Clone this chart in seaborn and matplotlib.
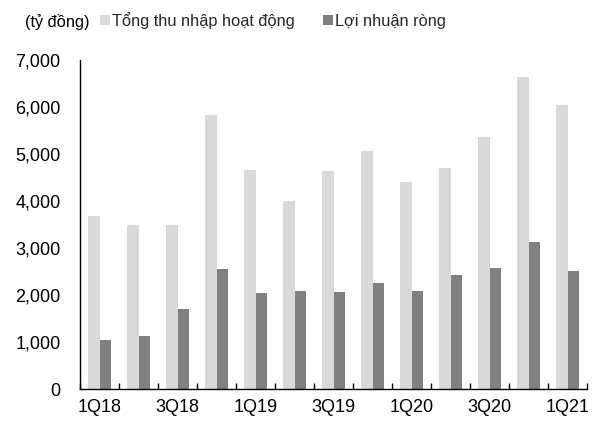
import numpy as np
import pandas as pd
import seaborn as sns
import matplotlib.pyplot as plt
from matplotlib.ticker import FuncFormatter

# Quarterly figures, in billion VND
quarters = ["1Q18", "2Q18", "3Q18", "4Q18", "1Q19", "2Q19", "3Q19",
            "4Q19", "1Q20", "2Q20", "3Q20", "4Q20", "1Q21"]
tong_thu_nhap = [3680, 3490, 3490, 5830, 4660, 4000, 4640,
                 5060, 4400, 4700, 5370, 6630, 6040]
loi_nhuan_rong = [1050, 1130, 1710, 2550, 2050, 2100, 2070,
                  2270, 2090, 2430, 2580, 3130, 2510]
series_names = ["Tổng thu nhập hoạt động", "Lợi nhuận ròng"]
series_colors = ["#D9D9D9", "#808080"]
y_ticks = [0, 1000, 2000, 3000, 4000, 5000, 6000, 7000]
unit_label = "(tỷ đồng)"

df = pd.DataFrame({
    "Quý": quarters * 2,
    "Giá trị": tong_thu_nhap + loi_nhuan_rong,
    "Chỉ tiêu": [series_names[0]] * len(quarters) + [series_names[1]] * len(quarters),
})

sns.set_theme(style="white")
plt.rcParams["font.family"] = ["Liberation Sans", "DejaVu Sans"]
FS = 13
FS_TOP = 11.8

fig = plt.figure(figsize=(5.97, 4.23), dpi=100)
ax = fig.add_axes([80 / 597, 1 - 389.3 / 423, (587 - 80) / 597, (389.3 - 60) / 423])

sns.barplot(data=df, x="Quý", y="Giá trị", hue="Chỉ tiêu", order=quarters,
            hue_order=series_names, palette=series_colors, saturation=1,
            width=0.57, gap=0, linewidth=0, edgecolor="none", ax=ax)

ax.set_xlim(-0.5, len(quarters) - 0.5)
ax.set_ylim(y_ticks[0], y_ticks[-1])
ax.set_xlabel("")
ax.set_ylabel("")

for side in ("top", "right"):
    ax.spines[side].set_visible(False)
for side in ("left", "bottom"):
    ax.spines[side].set_color("black")
    ax.spines[side].set_linewidth(1.0)

# y axis: comma-separated thousands, a single short tick at the top
ax.set_yticks(y_ticks)
ax.yaxis.set_major_formatter(FuncFormatter(lambda v, _: f"{int(v):,}"))
ax.set_yticks([y_ticks[-1]], minor=True)
ax.tick_params(axis="y", which="major", length=0, pad=14, labelsize=FS, colors="black")
ax.tick_params(axis="y", which="minor", left=True, direction="in", length=6, width=1, color="black")

# x axis: ticks at category centres and boundaries, every other label shown
ax.set_xticks(range(len(quarters)))
ax.set_xticklabels([q if i % 2 == 0 else "" for i, q in enumerate(quarters)])
ax.set_xticks(np.arange(-0.5, len(quarters)), minor=True)
ax.tick_params(axis="x", which="both", bottom=True, direction="in", length=4,
               width=1, color="black")
ax.tick_params(axis="x", which="major", pad=7, labelsize=FS, labelcolor="black")

handles, labels = ax.get_legend_handles_labels()
ax.legend(handles, labels, loc="center left", bbox_to_anchor=(100 / 597, 1 - 20.5 / 423),
          bbox_transform=fig.transFigure, ncol=2, frameon=False, fontsize=FS_TOP,
          borderpad=0, borderaxespad=0, handlelength=0.6, handleheight=0.6,
          handletextpad=0.15, columnspacing=1.7)

fig.text(25 / 597, 1 - 22 / 423, unit_label, fontsize=FS_TOP, va="center", ha="left", color="black")

fig.savefig("out.png", dpi=100, facecolor="white")
